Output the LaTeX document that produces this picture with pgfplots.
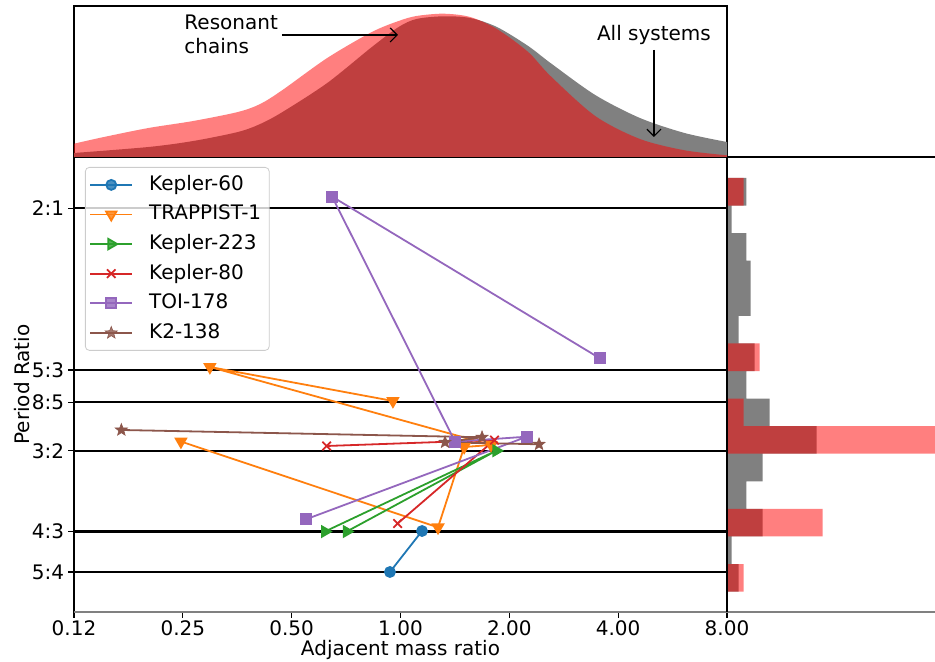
\documentclass[border=0pt]{standalone}
\usepackage{fontspec}
\setmainfont{DejaVu Sans}
\usepackage{pgfplots}
\pgfplotsset{compat=1.18}
\usetikzlibrary{arrows.meta}

\definecolor{c0}{HTML}{1F77B4}
\definecolor{c1}{HTML}{FF7F0E}
\definecolor{c2}{HTML}{2CA02C}
\definecolor{c3}{HTML}{D62728}
\definecolor{c4}{HTML}{9467BD}
\definecolor{c5}{HTML}{8C564B}
\definecolor{histgray}{HTML}{808080}

% filled five-pointed star, like matplotlib's '*'
\pgfdeclareplotmark{fstar}{%
  \pgfpathmoveto{\pgfpointpolar{90}{\pgfplotmarksize}}%
  \pgfpathlineto{\pgfpointpolar{126}{0.42\pgfplotmarksize}}%
  \pgfpathlineto{\pgfpointpolar{162}{\pgfplotmarksize}}%
  \pgfpathlineto{\pgfpointpolar{198}{0.42\pgfplotmarksize}}%
  \pgfpathlineto{\pgfpointpolar{234}{\pgfplotmarksize}}%
  \pgfpathlineto{\pgfpointpolar{270}{0.42\pgfplotmarksize}}%
  \pgfpathlineto{\pgfpointpolar{306}{\pgfplotmarksize}}%
  \pgfpathlineto{\pgfpointpolar{342}{0.42\pgfplotmarksize}}%
  \pgfpathlineto{\pgfpointpolar{18}{\pgfplotmarksize}}%
  \pgfpathlineto{\pgfpointpolar{54}{0.42\pgfplotmarksize}}%
  \pgfpathclose
  \pgfusepathqfillstroke
}

\newcommand{\tfont}{\fontsize{10}{12}\selectfont}

\begin{document}
\begin{tikzpicture}
\path[use as bounding box] (0pt,0pt) rectangle (467.5pt,331pt);

% ---------------- main panel ----------------
\begin{axis}[
  at={(37pt,25pt)}, anchor=south west,
  scale only axis, width=326.5pt, height=227.5pt,
  xmode=log, log basis x=2,
  xmin=0.125, xmax=8, ymin=1.1675, ymax=2.1057,
  xtick={0.125,0.25,0.5,1,2,4,8},
  xticklabels={0.12,0.25,0.50,1.00,2.00,4.00,8.00},
  ytick={1.25,1.333333,1.5,1.6,1.666667,2},
  yticklabels={5:4,4:3,3:2,8:5,5:3,2:1},
  xminorticks=false,
  ymajorgrids, grid style={black, line width=1.1pt},
  tick align=outside, xtick pos=bottom, ytick pos=left,
  major tick length=2.9pt, tick style={black, line width=0.6pt},
  axis line style={line width=0.6pt},
  tick label style={font=\tfont},
  xticklabel style={yshift=2pt},
  yticklabel style={xshift=1.5pt},
  label style={font=\tfont},
  xlabel={Adjacent mass ratio},
  ylabel={Period Ratio},
  xlabel style={yshift=4.5pt},
  ylabel style={yshift=-6pt},
  legend cell align=left,
  legend image code/.code={\draw[mark repeat=2,mark phase=2] plot coordinates {(0pt,0pt) (10.5pt,0pt) (21pt,0pt)};},
  legend style={at={(0.0168,0.978)}, anchor=north west, font=\tfont,
    draw=black!20, rounded corners=2pt, fill=white, fill opacity=0.8, text opacity=1,
    inner xsep=2pt, inner ysep=2pt, row sep=1.3pt, column sep=6pt,
    nodes={inner sep=2pt, text height=7.5pt, text depth=2pt}},
  every axis plot/.append style={line width=0.9pt},
]
\addplot[c0, mark=*, mark size=2.5pt] coordinates {(0.935,1.25) (1.147,1.3345)};
\addlegendentry{Kepler-60}
\addplot[c1, mark=triangle*, mark size=3pt, mark options={rotate=180}] coordinates {
  (0.953,1.6026) (0.297,1.6727) (1.78,1.5119) (1.50,1.5077) (1.27,1.342) (0.247,1.519)};
\addlegendentry{TRAPPIST-1}
\addplot[c2, mark=triangle*, mark size=3pt, mark options={rotate=-90}] coordinates {
  (0.618,1.3334) (1.84,1.500) (0.710,1.3334)};
\addlegendentry{Kepler-223}
\addplot[c3, mark=x, mark size=3pt] coordinates {
  (0.625,1.5098) (1.82,1.522) (0.982,1.350)};
\addlegendentry{Kepler-80}
\addplot[c4, mark=square*, mark size=2.5pt] coordinates {
  (3.56,1.6906) (0.647,2.024) (1.415,1.5187) (2.238,1.529) (0.548,1.3587)};
\addlegendentry{TOI-178}
\addplot[c5, mark=fstar, mark size=3.2pt, mark options={line width=0.3pt}] coordinates {
  (2.417,1.5133) (1.328,1.5174) (1.681,1.5278) (0.169,1.5428)};
\addlegendentry{K2-138}
\end{axis}

% ---------------- right histogram panel ----------------
\begin{axis}[
  at={(363.5pt,25pt)}, anchor=south west,
  scale only axis, width=104pt, height=227.5pt,
  xmin=0, xmax=208, ymin=1.1675, ymax=2.1057,
  hide axis,
]
\addplot[xbar interval, fill=histgray, draw=none] coordinates {
  (11.7,1.2094) (4.7,1.2663) (35.7,1.3232) (19.4,1.3800) (35.7,1.4369)
  (89.7,1.4938) (42.7,1.5506) (19.4,1.6075) (27.7,1.6644) (11.7,1.7212)
  (23.7,1.7781) (23.7,1.8350) (19.4,1.8918) (4.7,1.9487) (19.4,2.0056)
  (0,2.0624)};
\addplot[xbar interval, fill=red, fill opacity=0.5, draw=none] coordinates {
  (16.7,1.2094) (0,1.2663) (95.7,1.3232) (0,1.3800) (0,1.4369)
  (208,1.4938) (16.7,1.5506) (0,1.6075) (32.7,1.6644) (0,1.7212)
  (0,1.7781) (0,1.8350) (0,1.8918) (0,1.9487) (16.7,2.0056)
  (0,2.0624)};
\end{axis}

% ---------------- top density panel ----------------
\begin{axis}[
  at={(37pt,252.5pt)}, anchor=south west,
  scale only axis, width=326.5pt, height=75.5pt,
  xmin=-3, xmax=3, ymin=0, ymax=151,
  ticks=none,
  axis line style={line width=0.6pt},
]
% all systems (x given as log2 of the mass ratio)
\addplot[fill=histgray, draw=none, smooth] coordinates {
  (-3,4) (-2.315,10) (-1.904,16) (-1.494,25) (-1.289,33) (-1.084,45)
  (-0.673,74) (-0.263,110) (-0.017,130) (0.147,138) (0.394,140.7)
  (0.640,139) (0.886,130) (1.173,111) (1.378,94) (1.789,62) (2.2,39)
  (2.61,24) (3,15)} \closedcycle;
% resonant chains
\addplot[fill=red, fill opacity=0.5, draw=none, smooth] coordinates {
  (-3,13.3) (-2.725,20) (-2.315,29) (-1.904,36) (-1.494,45) (-1.289,53)
  (-1.084,67) (-0.673,99) (-0.263,125) (-0.017,136) (0.147,141)
  (0.394,143.3) (0.640,140) (0.886,128) (1.173,105) (1.378,81)
  (1.789,41) (2.2,18) (2.61,6.7) (3,1.7)} \closedcycle;
\node[anchor=west, align=left, font=\tfont, inner sep=0pt] at (axis cs:-1.989,123) {Resonant\\chains};
\draw[-{Straight Barb[length=3.5pt,width=7pt]}, line width=0.6pt]
  (axis cs:-1.089,122) -- (axis cs:-0.023,122);
\node[font=\tfont] at (axis cs:2.329,122) {All systems};
\draw[-{Straight Barb[length=3.5pt,width=7pt]}, line width=0.6pt]
  (axis cs:2.329,107) -- (axis cs:2.329,20);
\end{axis}

% shared spines
\draw[black, line width=0.6pt] (363.5pt,252.5pt) -- (467.5pt,252.5pt);
\draw[histgray, line width=0.6pt] (37pt,25pt) -- (467.5pt,25pt);
\draw[black, line width=0.6pt] (363.5pt,25pt) -- (363.5pt,252.5pt);
\end{tikzpicture}
\end{document}
